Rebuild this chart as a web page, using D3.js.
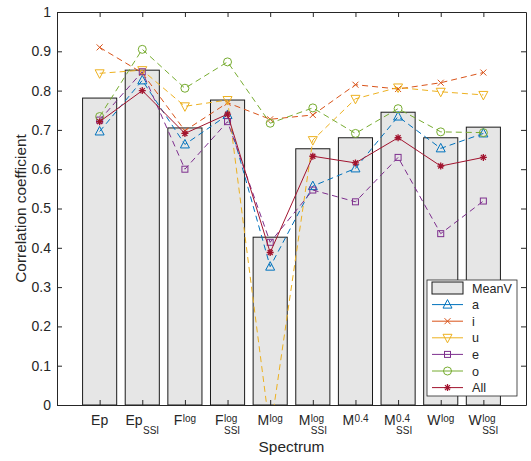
<!DOCTYPE html>
<html>
<head>
<meta charset="utf-8">
<script src="https://cdn.jsdelivr.net/npm/d3@7"></script>
<style>
  body { margin: 0; background: #fff; }
  text { font-family: "Liberation Sans", Arial, sans-serif; fill: #262626; }
</style>
</head>
<body>
<svg id="chart"></svg>
<script>
// Spectrum labels: base, superscript, subscript
const labelBase = ["Ep", "Ep", "F", "F", "M", "M", "M", "M", "W", "W"];
const labelSup  = ["", "", "log", "log", "log", "log", "0.4", "0.4", "log", "log"];
const labelSub  = ["", "SSI", "", "SSI", "", "SSI", "", "SSI", "", "SSI"];

const meanV = [0.781, 0.852, 0.705, 0.776, 0.427, 0.652, 0.680, 0.745, 0.680, 0.707];

const seriesNames = ["a", "i", "u", "e", "o", "All"];
const valsA   = [0.696, 0.826, 0.663, 0.738, 0.352, 0.557, 0.602, 0.734, 0.653, 0.691];
const valsI   = [0.910, 0.845, 0.698, 0.769, 0.727, 0.738, 0.815, 0.804, 0.820, 0.846];
const valsU   = [0.844, 0.852, 0.760, 0.776, -0.07, 0.674, 0.779, 0.808, 0.797, 0.789];
const valsE   = [0.725, 0.848, 0.600, 0.721, 0.414, 0.547, 0.517, 0.630, 0.436, 0.519];
const valsO   = [0.734, 0.905, 0.806, 0.873, 0.717, 0.756, 0.691, 0.754, 0.695, 0.693];
const valsAll = [0.721, 0.800, 0.691, 0.740, 0.388, 0.633, 0.616, 0.680, 0.608, 0.630];

const yTicks = [0, 0.1, 0.2, 0.3, 0.4, 0.5, 0.6, 0.7, 0.8, 0.9, 1];

const series = [
  { name: "a",   values: valsA,   color: "#0072BD", dash: "6,4", marker: "triUp" },
  { name: "i",   values: valsI,   color: "#D95319", dash: "6,4", marker: "cross" },
  { name: "u",   values: valsU,   color: "#EDB120", dash: "6,4", marker: "triDown" },
  { name: "e",   values: valsE,   color: "#7E2F8E", dash: "6,4", marker: "square" },
  { name: "o",   values: valsO,   color: "#77AC30", dash: "6,4", marker: "circle" },
  { name: "All", values: valsAll, color: "#A2142F", dash: null,  marker: "star" }
];

const width = 531, height = 461;
const margin = { top: 12, right: 5, bottom: 56, left: 57 };
const innerW = width - margin.left - margin.right;
const innerH = height - margin.top - margin.bottom;
const tickFont = 14, titleFont = 15.4, legendFont = 12.6, scriptFont = 10;

const svg = d3.select("#chart").attr("width", width).attr("height", height);
const chart = svg.append("g").attr("transform", `translate(${margin.left},${margin.top})`);

const x = d3.scaleLinear().domain([0, labelBase.length + 1]).range([0, innerW]);
const y = d3.scaleLinear().domain([0, 1]).range([innerH, 0]);
const step = x(1) - x(0);

chart.append("clipPath").attr("id", "clip")
  .append("rect").attr("width", innerW).attr("height", innerH);

// bars
chart.selectAll(".bar").data(meanV).join("rect")
  .attr("class", "bar")
  .attr("x", (d, i) => x(i + 1) - step * 0.4)
  .attr("width", step * 0.8)
  .attr("y", d => y(d))
  .attr("height", d => innerH - y(d))
  .attr("fill", "#e6e6e6")
  .attr("stroke", "#1a1a1a")
  .attr("stroke-width", 1);

// marker shapes
function drawMarker(g, type, color) {
  if (type === "triUp") {
    g.append("path").attr("d", "M0,-5L4.5,3.5L-4.5,3.5Z").attr("fill", "none").attr("stroke", color);
  } else if (type === "triDown") {
    g.append("path").attr("d", "M0,5L4.5,-3.5L-4.5,-3.5Z").attr("fill", "none").attr("stroke", color);
  } else if (type === "cross") {
    g.append("path").attr("d", "M-3,-3L3,3M-3,3L3,-3").attr("stroke", color);
  } else if (type === "square") {
    g.append("rect").attr("x", -3).attr("y", -3).attr("width", 6).attr("height", 6)
      .attr("fill", "none").attr("stroke", color);
  } else if (type === "circle") {
    g.append("circle").attr("r", 4).attr("fill", "none").attr("stroke", color);
  } else if (type === "star") {
    g.append("path").attr("d", "M-3.5,0L3.5,0M0,-3.5L0,3.5M-2.5,-2.5L2.5,2.5M-2.5,2.5L2.5,-2.5")
      .attr("stroke", color).attr("stroke-width", 1.3);
  }
}

const line = d3.line().x((d, i) => x(i + 1)).y(d => y(d));
const plot = chart.append("g").attr("clip-path", "url(#clip)");

series.forEach(s => {
  plot.append("path")
    .datum(s.values)
    .attr("d", line)
    .attr("fill", "none")
    .attr("stroke", s.color)
    .attr("stroke-width", 1)
    .attr("stroke-dasharray", s.dash);
  s.values.forEach((v, i) => {
    const g = plot.append("g").attr("transform", `translate(${x(i + 1)},${y(v)})`)
      .attr("stroke-width", 1);
    drawMarker(g, s.marker, s.color);
  });
});

// axes (ticks inward, box on)
const axisColor = "#262626";
const yAxisG = chart.append("g")
  .call(d3.axisLeft(y).tickValues(yTicks).tickFormat(d3.format("~g")).tickSizeInner(-5).tickSizeOuter(0).tickPadding(6));
chart.append("g").attr("transform", `translate(${innerW},0)`)
  .call(d3.axisRight(y).tickValues(yTicks).tickFormat("").tickSizeInner(-5).tickSizeOuter(0));
chart.append("g").attr("transform", `translate(0,${innerH})`)
  .call(d3.axisBottom(x).tickValues(d3.range(1, labelBase.length + 1)).tickFormat("").tickSizeInner(-5).tickSizeOuter(0));
chart.append("g")
  .call(d3.axisTop(x).tickValues(d3.range(1, labelBase.length + 1)).tickFormat("").tickSizeInner(-5).tickSizeOuter(0));

chart.selectAll(".domain, .tick line").attr("stroke", axisColor);
yAxisG.selectAll("text").attr("font-size", tickFont).attr("fill", axisColor)
  .style("font-family", "Liberation Sans, Arial, sans-serif");

// x tick labels with super/subscripts
labelBase.forEach((b, i) => {
  const g = chart.append("g");
  const baseT = g.append("text").attr("y", 20).attr("font-size", tickFont).text(b);
  const bw = baseT.node().getComputedTextLength();
  let ew = 0;
  if (labelSup[i]) {
    const t = g.append("text").attr("x", bw + 0.5).attr("y", 17).attr("font-size", scriptFont).text(labelSup[i]);
    ew = Math.max(ew, t.node().getComputedTextLength() + 0.5);
  }
  if (labelSub[i]) {
    const t = g.append("text").attr("x", bw + 0.5).attr("y", 28.5).attr("font-size", scriptFont).text(labelSub[i]);
    ew = Math.max(ew, t.node().getComputedTextLength() + 0.5);
  }
  g.attr("transform", `translate(${x(i + 1) - (bw + ew) / 2},${innerH})`);
});

// axis titles
svg.append("text")
  .attr("x", margin.left + innerW / 2).attr("y", 452)
  .attr("text-anchor", "middle").attr("font-size", titleFont).text("Spectrum");
svg.append("text")
  .attr("transform", `translate(25.5,${margin.top + innerH / 2}) rotate(-90)`)
  .attr("text-anchor", "middle").attr("font-size", titleFont).text("Correlation coefficient");

// legend
const leg = svg.append("g").attr("transform", "translate(427,280)");
leg.append("rect").attr("width", 90).attr("height", 116)
  .attr("fill", "#fff").attr("stroke", axisColor).attr("stroke-width", 0.8);
const rowH = 16.6;
leg.append("rect").attr("x", 5).attr("y", 8 - 6).attr("width", 31).attr("height", 12)
  .attr("fill", "#e6e6e6").attr("stroke", "#1a1a1a");
leg.append("text").attr("x", 45).attr("y", 8 + 4.5).attr("font-size", legendFont).text("MeanV");
series.forEach((s, k) => {
  const cy = 8 + rowH * (k + 1);
  leg.append("line").attr("x1", 5).attr("x2", 36).attr("y1", cy).attr("y2", cy)
    .attr("stroke", s.color).attr("stroke-width", 1);
  const g = leg.append("g").attr("transform", `translate(20.5,${cy})`);
  drawMarker(g, s.marker, s.color);
  leg.append("text").attr("x", 45).attr("y", cy + 4.5).attr("font-size", legendFont).text(s.name);
});
</script>
</body>
</html>
